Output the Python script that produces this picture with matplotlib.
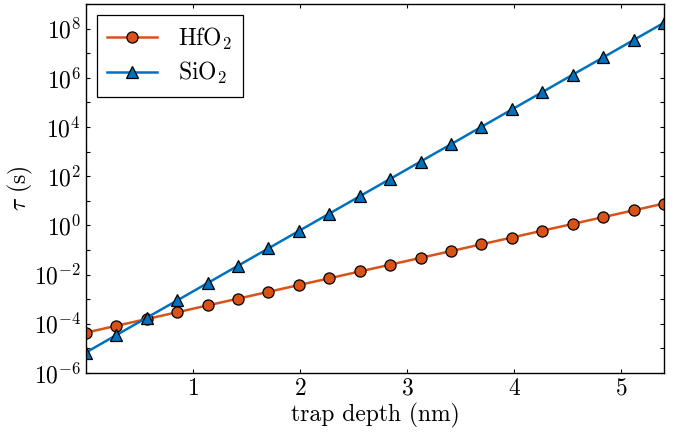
import matplotlib
matplotlib.use("Agg")
import matplotlib.pyplot as plt
from matplotlib.ticker import FixedLocator, FuncFormatter, NullLocator
import numpy as np

plt.rcParams['font.family'] = ['cmr10', 'DejaVu Serif']
plt.rcParams['mathtext.fontset'] = 'cm'
plt.rcParams['axes.formatter.use_mathtext'] = True

depth = [0.0, 0.284, 0.568, 0.853, 1.137, 1.421, 1.705, 1.989, 2.274, 2.558,
         2.842, 3.126, 3.411, 3.695, 3.979, 4.263, 4.547, 4.832, 5.116, 5.4]
tau_hfo2 = [4.37e-5, 8.24e-5, 1.56e-4, 2.94e-4, 5.56e-4, 1.05e-3, 1.99e-3, 3.75e-3,
            7.08e-3, 1.34e-2, 2.53e-2, 4.78e-2, 9.04e-2, 0.171, 0.322, 0.610,
            1.15, 2.17, 4.10, 7.76]
tau_sio2 = [6.76e-6, 3.44e-5, 1.75e-4, 8.87e-4, 4.51e-3, 2.29e-2, 0.116, 0.592,
            3.01, 15.3, 77.6, 394, 2004, 1.02e4, 5.18e4, 2.63e5, 1.34e6, 6.79e6,
            3.45e7, 1.75e8]
labels = ['HfO$_2$', 'SiO$_2$']
xticks = [1, 2, 3, 4, 5]

fig = plt.figure(figsize=(6.86, 4.33), dpi=100)
ax = fig.add_axes([0.125, 0.1386, 0.843, 0.852])

ax.plot(depth, tau_hfo2, '-o', color='#D95319', lw=1.8, ms=8,
        mfc='#D95319', mec='black', mew=0.9, label=labels[0])
ax.plot(depth, tau_sio2, '-^', color='#0072BD', lw=1.8, ms=8,
        mfc='#0072BD', mec='black', mew=0.9, label=labels[1])

ax.set_yscale('log')
ax.set_xlim(0, 5.4)
ax.set_ylim(1e-6, 1e9)

ax.xaxis.set_major_locator(FixedLocator(xticks))
ax.xaxis.set_minor_locator(NullLocator())
ax.yaxis.set_major_locator(FixedLocator([10.0**k for k in range(-6, 10)]))
ax.yaxis.set_minor_locator(NullLocator())

def yfmt(v, pos):
    e = int(round(np.log10(v)))
    if e % 2 == 0 and e <= 8:
        return r'$10^{%d}$' % e
    return ''
ax.yaxis.set_major_formatter(FuncFormatter(yfmt))
ax.xaxis.set_major_formatter(FuncFormatter(lambda v, p: r'$%d$' % v))

ax.tick_params(which='both', direction='in', top=True, right=True,
               length=3, width=0.8, labelsize=17)

ax.set_xlabel('trap depth (nm)', fontsize=17, labelpad=2)
ax.set_ylabel(r'$\tau$ (s)', fontsize=17)
ax.yaxis.set_label_coords(-0.087, 0.5)

leg = ax.legend(loc='upper left', fontsize=17, fancybox=False, framealpha=1,
                edgecolor='black', borderpad=0.45, handlelength=2.1,
                handletextpad=0.9, labelspacing=0.35, borderaxespad=0,
                bbox_to_anchor=(0.019, 0.970))
leg.get_frame().set_linewidth(0.9)

for s in ax.spines.values():
    s.set_linewidth(1.0)

fig.savefig('out.png', dpi=100)
